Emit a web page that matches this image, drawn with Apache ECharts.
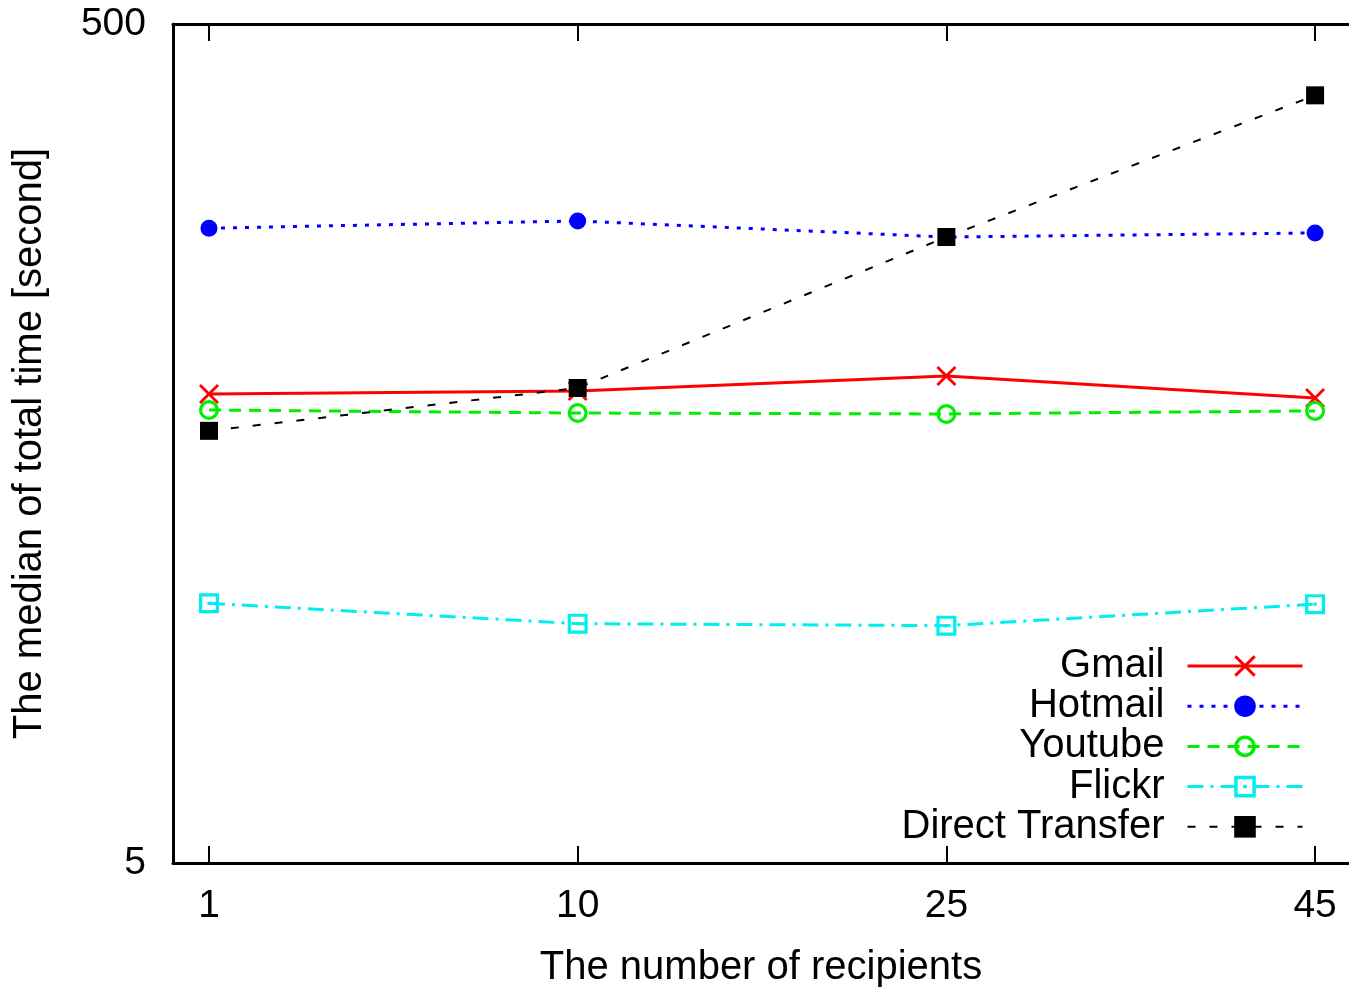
<!DOCTYPE html>
<html>
<head>
<meta charset="utf-8">
<script src="https://cdn.jsdelivr.net/npm/echarts@6/dist/echarts.min.js"></script>
<style>html,body{margin:0;padding:0;background:#fff}#c{width:1349px;height:987px}</style>
</head>
<body>
<div id="c"></div>
<script>
const categories = ['1', '10', '25', '45'];
const gmail = [65.6, 66.7, 72.4, 64.2];
const hotmail = [163, 169.6, 155.3, 158.8];
const youtube = [60.1, 59.1, 58.8, 59.8];
const flickr = [20.8, 18.6, 18.4, 20.7];
const direct = [53.6, 67.8, 155.3, 338];
const yTicks = [5, 500];

const FONT = 'Liberation Sans, Arial, sans-serif';
const crossPath = 'path://M0,1L1,0L5,4L9,0L10,1L6,5L10,9L9,10L5,6L1,10L0,9L4,5Z';
const ringPath = 'path://M10,5A5,5,0,1,1,0,5A5,5,0,1,1,10,5Z M8.4,5A3.4,3.4,0,1,0,1.6,5A3.4,3.4,0,1,0,8.4,5Z';
const sqPath = 'path://M0,0L10,0L10,10L0,10Z M1.6,1.6L1.6,8.4L8.4,8.4L8.4,1.6Z M4.2,4.2L5.8,4.2L5.8,5.8L4.2,5.8Z';

function pts(arr){ return arr.map((v,i)=>[i,v]); }
const idx = categories.map((c,i)=>i);

const chart = echarts.init(document.getElementById('c'), null, {renderer:'canvas'});
const xCommon = {
  type:'value', min:-0.0976, max:3.092,
  splitLine:{show:false},
  axisLine:{onZero:false, lineStyle:{color:'#000', width:3}},
  axisTick:{inside:true, length:17, lineStyle:{color:'#000', width:2}, customValues: idx}
};
chart.setOption({
  animation:false,
  grid:{left:173, right:0, top:24, bottom:124, containLabel:false, outerBoundsMode:'none'},
  xAxis:[
    Object.assign({}, xCommon, {
      position:'bottom',
      name:'The number of recipients', nameLocation:'middle', nameGap:85,
      nameTextStyle:{fontFamily:FONT, fontSize:40, color:'#000'},
      axisLabel:{customValues: idx, formatter:(v)=>categories[Math.round(v)], fontFamily:FONT, fontSize:39, color:'#000', margin:24}
    }),
    Object.assign({}, xCommon, {position:'top', axisLabel:{show:false}})
  ],
  yAxis:{
    type:'log', logBase:10, min:5, max:500,
    name:'The median of total time [second]', nameLocation:'middle', nameGap:123,
    nameTextStyle:{fontFamily:FONT, fontSize:40, color:'#000'},
    splitLine:{show:false},
    axisLine:{onZero:false, lineStyle:{color:'#000', width:3}},
    axisTick:{show:false},
    minorTick:{show:false},
    axisLabel:{customValues: yTicks, fontFamily:FONT, fontSize:39, color:'#000', margin:27}
  },
  legend:{
    orient:'vertical', right:40, top:641, align:'right',
    itemWidth:115, itemHeight:27, itemGap:0.2,
    lineStyle:{width:'inherit'},
    textStyle:{fontFamily:FONT, fontSize:40, color:'#000', lineHeight:40, padding:[0,18,0,0]},
    data:['Gmail','Hotmail','Youtube','Flickr','Direct Transfer']
  },
  series:[
    {name:'Gmail', type:'line', data:pts(gmail), symbol:crossPath, symbolSize:20,
     itemStyle:{color:'#ff0000'}, lineStyle:{color:'#ff0000', width:3, type:'solid'}},
    {name:'Hotmail', type:'line', data:pts(hotmail), symbol:'circle', symbolSize:17,
     itemStyle:{color:'#0000ff'}, lineStyle:{color:'#0000ff', width:3, type:[4,8]}},
    {name:'Youtube', type:'line', data:pts(youtube), symbol:ringPath, symbolSize:20,
     itemStyle:{color:'#00ee00'}, lineStyle:{color:'#00ee00', width:3, type:[12,8]}},
    {name:'Flickr', type:'line', data:pts(flickr), symbol:sqPath, symbolSize:20,
     itemStyle:{color:'#00eeee'}, lineStyle:{color:'#00eeee', width:3, type:[16,7,3,7]}},
    {name:'Direct Transfer', type:'line', data:pts(direct), symbol:'rect', symbolSize:18,
     itemStyle:{color:'#000'}, lineStyle:{color:'#000', width:2, type:[8,14]}}
  ]
});
</script>
</body>
</html>
